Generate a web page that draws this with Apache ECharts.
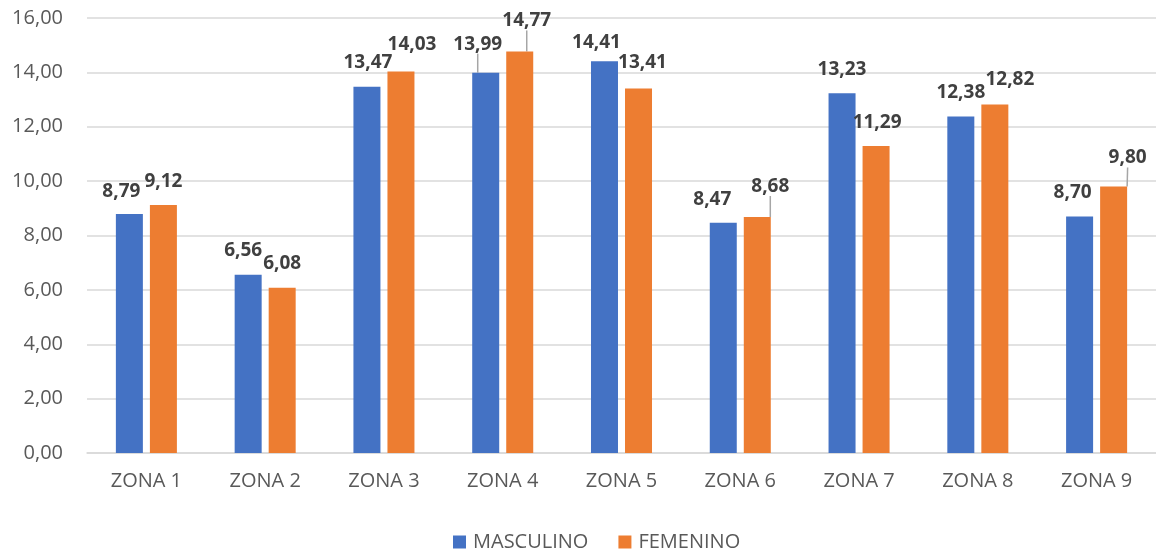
<!DOCTYPE html>
<html>
<head>
<meta charset="utf-8">
<script src="https://cdn.jsdelivr.net/npm/echarts@6/dist/echarts.min.js"></script>
<style>
  html, body { margin: 0; padding: 0; background: #fff; }
  #chart { width: 1156px; height: 549px; }
</style>
</head>
<body>
<div id="chart"></div>
<script>
// categorias y valores
const zonas = ['ZONA 1', 'ZONA 2', 'ZONA 3', 'ZONA 4', 'ZONA 5', 'ZONA 6', 'ZONA 7', 'ZONA 8', 'ZONA 9'];
const masculino = [8.79, 6.56, 13.47, 13.99, 14.41, 8.47, 13.23, 12.38, 8.70];
const femenino = [9.12, 6.08, 14.03, 14.77, 13.41, 8.68, 11.29, 12.82, 9.80];

// desplazamiento manual de etiquetas (como en Excel)
const offsetMasc = [[-8, -8], [-5, -10], [1, -10], [-8, -14], [-8, -4], [-11, -9], [0, -9], [0, -9], [-7, -9]];
const offsetFem = [[0, -9], [0, -10], [11, -12], [7, -16], [4, -11], [13, -16], [1, -9], [15, -10], [14, -14]];
const lineaMasc = [3];
const lineaFem = [3, 5, 8];

const fmt = v => v.toFixed(2).replace('.', ',');
const FONT = '"Open Sans", "Liberation Sans", sans-serif';

function buildData(values, lines) {
  return values.map((v, i) => ({
    value: v,
    labelLine: { show: lines.includes(i) }
  }));
}

function makeSeries(name, values, color, offsets, lines) {
  return {
    name: name,
    type: 'bar',
    barWidth: 27,
    barGap: '26%',
    itemStyle: { color: color },
    data: buildData(values, lines),
    label: {
      show: true,
      position: 'top',
      distance: 5,
      formatter: p => fmt(p.value),
      fontFamily: FONT,
      fontWeight: 'bold',
      fontSize: 19,
      color: '#404040'
    },
    labelLine: {
      show: false,
      lineStyle: { color: '#a6a6a6', width: 1.5 }
    },
    labelLayout: function (params) {
      const o = offsets[params.dataIndex];
      return { dx: o[0], dy: o[1] };
    }
  };
}

const chart = echarts.init(document.getElementById('chart'));
chart.setOption({
  animation: false,
  backgroundColor: '#ffffff',
  textStyle: { fontFamily: FONT },
  grid: { left: 87, right: 0, top: 18, bottom: 96, containLabel: false },
  legend: {
    left: 448,
    top: 527,
    itemWidth: 13,
    itemHeight: 13,
    itemGap: 30,
    icon: 'rect',
    textStyle: { fontFamily: FONT, fontSize: 20, color: '#595959', padding: [0, 0, 0, 2] },
    data: ['MASCULINO', 'FEMENINO']
  },
  xAxis: {
    type: 'category',
    data: zonas,
    axisLine: { lineStyle: { color: '#d9d9d9', width: 1.5 } },
    axisTick: { show: false },
    axisLabel: { fontFamily: FONT, fontSize: 20, color: '#595959', margin: 18 }
  },
  yAxis: {
    type: 'value',
    min: 0,
    max: 16,
    interval: 2,
    axisLine: { show: false },
    axisTick: { show: false },
    splitLine: { lineStyle: { color: '#d9d9d9', width: 1.5 } },
    axisLabel: {
      fontFamily: FONT, fontSize: 20, color: '#595959', margin: 24,
      formatter: v => fmt(v)
    }
  },
  series: [
    makeSeries('MASCULINO', masculino, '#4472c4', offsetMasc, lineaMasc),
    makeSeries('FEMENINO', femenino, '#ed7d31', offsetFem, lineaFem)
  ]
});
</script>
</body>
</html>
